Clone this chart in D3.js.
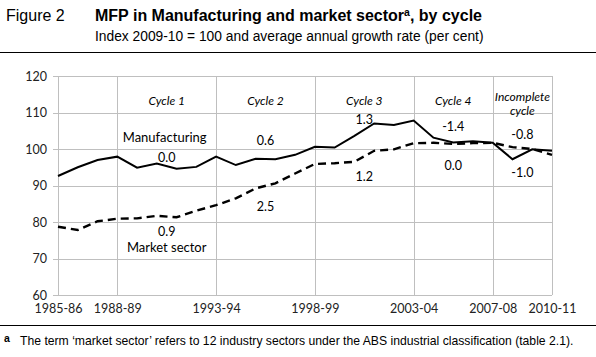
<!DOCTYPE html>
<html><head><meta charset="utf-8">
<script src="https://cdn.jsdelivr.net/npm/d3@7"></script>
<style>
html,body{margin:0;padding:0;background:#fff;}
svg{display:block;}
</style></head>
<body>
<svg id="chart" width="596" height="357"></svg>
<script>
const years = ["1985-86","1986-87","1987-88","1988-89","1989-90","1990-91","1991-92","1992-93","1993-94","1994-95","1995-96","1996-97","1997-98","1998-99","1999-00","2000-01","2001-02","2002-03","2003-04","2004-05","2005-06","2006-07","2007-08","2008-09","2009-10","2010-11"];
const manufacturing = [92.6,95.0,97.0,97.9,94.9,96.0,94.6,95.1,97.9,95.6,97.3,97.2,98.4,100.6,100.4,103.6,107.0,106.6,107.8,103.1,101.8,102.1,101.7,97.2,99.9,99.5];
const marketSector = [78.7,77.8,80.2,80.9,81.0,81.7,81.3,83.1,84.6,86.5,89.2,90.6,93.3,95.9,96.1,96.5,99.5,99.9,101.6,101.7,101.4,101.6,101.7,100.5,100.0,98.4];
const tickYears = ["1985-86","1988-89","1993-94","1998-99","2003-04","2007-08","2010-11"];
const yTicks = [60,70,80,90,100,110,120];
const cycleBounds = ["1988-89","1993-94","1998-99","2003-04","2007-08","2010-11"];
const cycleNames = [["Cycle 1"],["Cycle 2"],["Cycle 3"],["Cycle 4"],["Incomplete","cycle"]];
const manufRates = ["0.0","0.6","1.3","-1.4","-0.8"];
const marketRates = ["0.9","2.5","1.2","0.0","-1.0"];
const manufRateY = [97.7,102.3,108.2,106.1,104.1];
const marketRateY = [77.5,84.2,92.4,95.5,93.6];

const svg = d3.select("#chart");
const L = 58, R = 552, T = 76, B = 295;
const x = d3.scaleLinear().domain([0, years.length-1]).range([L, R]);
const y = d3.scaleLinear().domain([60,120]).range([B, T]);
const xi = yr => x(years.indexOf(yr));
const chartFont = "Lato, 'Open Sans', sans-serif";
const arial = "'Liberation Sans', Arial, sans-serif";

// Title
svg.append("text").attr("x",6).attr("y",21).attr("font-family",arial).attr("font-size",16).text("Figure 2");
const t = svg.append("text").attr("x",95).attr("y",21).attr("font-family",arial).attr("font-size",16).attr("font-weight","bold");
t.append("tspan").text("MFP in Manufacturing and market sector");
t.append("tspan").attr("font-size",10.5).attr("dy",-5).text("a");
t.append("tspan").attr("dy",5).text(", by cycle");
svg.append("text").attr("x",95).attr("y",41).attr("font-family",arial).attr("font-size",13.8).text("Index 2009-10 = 100 and average annual growth rate (per cent)");
svg.append("line").attr("x1",0).attr("x2",596).attr("y1",52.5).attr("y2",52.5).attr("stroke","#000").attr("stroke-width",1);

// Gridlines
const g = svg.append("g");
g.selectAll("line.h").data(yTicks).join("line")
  .attr("x1",L-5).attr("x2",R).attr("y1",d=>Math.round(y(d))+0.5).attr("y2",d=>Math.round(y(d))+0.5)
  .attr("stroke","#bfbfbf").attr("stroke-width",1);
g.selectAll("line.v").data(["1985-86"].concat(cycleBounds)).join("line")
  .attr("x1",d=>Math.round(xi(d))+0.5).attr("x2",d=>Math.round(xi(d))+0.5).attr("y1",T).attr("y2",B)
  .attr("stroke","#bfbfbf").attr("stroke-width",1);

// Axes labels
const yAxis = d3.axisLeft(y).tickValues(yTicks).tickSize(0).tickPadding(11);
const ya = svg.append("g").attr("transform",`translate(${L},0)`).call(yAxis);
ya.select(".domain").remove();
ya.selectAll("text").attr("font-family",chartFont).attr("font-size",12.5).attr("fill","#222");
const xAxis = d3.axisBottom(d3.scalePoint().domain(years).range([L,R])).tickValues(tickYears).tickSize(0).tickPadding(9);
const xa = svg.append("g").attr("transform",`translate(0,${B})`).call(xAxis);
xa.select(".domain").remove();
xa.selectAll("text").attr("font-family",chartFont).attr("font-size",12.5).attr("fill","#222");

// Lines
const line = d3.line().x((d,i)=>x(i)).y(d=>y(d));
svg.append("path").datum(marketSector).attr("d",line).attr("fill","none").attr("stroke","#000").attr("stroke-width",2.4).attr("stroke-dasharray","8,5");
svg.append("path").datum(manufacturing).attr("d",line).attr("fill","none").attr("stroke","#000").attr("stroke-width",2);

// Cycle labels
const mids = cycleNames.map((n,i)=>(xi(cycleBounds[i])+xi(cycleBounds[i+1]))/2);
cycleNames.forEach((n,i)=>{
  const tt = svg.append("text").attr("text-anchor","middle").attr("font-family",chartFont).attr("font-size",12).attr("font-style","italic").attr("fill","#000");
  if(n.length===1){ tt.attr("x",mids[i]).attr("y",y(113.2)+4).text(n[0]); }
  else {
    tt.append("tspan").attr("x",mids[i]).attr("y",y(114.2)+4).text(n[0]);
    tt.append("tspan").attr("x",mids[i]).attr("y",y(110.3)+4).text(n[1]);
  }
});
// Rates
svg.selectAll("text.mr").data(manufRates).join("text").attr("class","mr")
  .attr("x",(d,i)=>mids[i]).attr("y",(d,i)=>y(manufRateY[i])+4.5).attr("text-anchor","middle")
  .attr("font-family",chartFont).attr("font-size",12.5).attr("fill","#000").text(d=>d);
svg.selectAll("text.ms").data(marketRates).join("text").attr("class","ms")
  .attr("x",(d,i)=>mids[i]).attr("y",(d,i)=>y(marketRateY[i])+4.5).attr("text-anchor","middle")
  .attr("font-family",chartFont).attr("font-size",12.5).attr("fill","#000").text(d=>d);
// Series labels
svg.append("text").attr("x",mids[0]-2).attr("y",y(103.2)+4.5).attr("text-anchor","middle").attr("font-family",chartFont).attr("font-size",13).text("Manufacturing");
svg.append("text").attr("x",mids[0]).attr("y",y(73)+4.5).attr("text-anchor","middle").attr("font-family",chartFont).attr("font-size",13).text("Market sector");

// Footnote
svg.append("line").attr("x1",0).attr("x2",596).attr("y1",325.5).attr("y2",325.5).attr("stroke","#000").attr("stroke-width",1);
const fn = svg.append("text").attr("x",4).attr("y",345).attr("font-family",arial).attr("font-size",12.2);
fn.append("tspan").attr("font-weight","bold").attr("font-size",10.5).attr("dy",-3).text("a");
fn.append("tspan").attr("x",20).attr("dy",3).text("The term \u2018market sector\u2019 refers to 12 industry sectors under the ABS industrial classification (table 2.1).");
</script>
</body></html>
